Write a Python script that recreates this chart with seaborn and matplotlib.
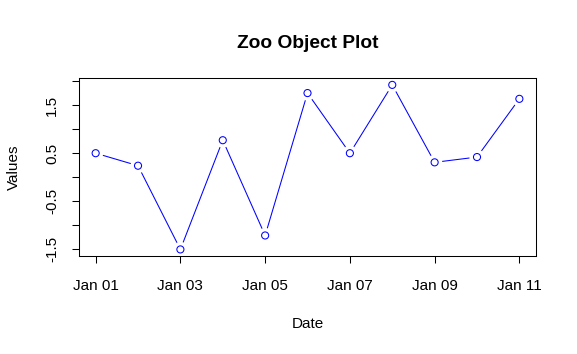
import matplotlib
matplotlib.use('Agg')
import matplotlib.pyplot as plt
import matplotlib.dates as mdates
import pandas as pd
import seaborn as sns

# Dados da série
dates = ['2024-01-01', '2024-01-02', '2024-01-03', '2024-01-04', '2024-01-05', '2024-01-06',
         '2024-01-07', '2024-01-08', '2024-01-09', '2024-01-10', '2024-01-11']
values = [0.50, 0.24, -1.50, 0.77, -1.21, 1.75, 0.50, 1.92, 0.31, 0.42, 1.63]
x_ticks = ['2024-01-01', '2024-01-03', '2024-01-05', '2024-01-07', '2024-01-09', '2024-01-11']
y_ticks = [-1.5, -1.0, -0.5, 0.0, 0.5, 1.0, 1.5, 2.0]
y_labels = ['-1.5', '', '-0.5', '', '0.5', '', '1.5', '']

df = pd.DataFrame({'date': pd.to_datetime(dates), 'value': values})

sns.set_style('white')
plt.rcParams['font.family'] = ['Liberation Sans', 'DejaVu Sans']
plt.rcParams['text.color'] = 'black'
plt.rcParams['axes.labelcolor'] = 'black'

fig = plt.figure(figsize=(5.77, 3.54), dpi=100)
ax = fig.add_axes([0.1364, 0.2768, 0.7931, 0.502])

# linha com lacunas nos pontos (estilo type="b" do R)
sns.lineplot(data=df, x='date', y='value', color='blue', linewidth=0.75, ax=ax, zorder=1)
ax.scatter(df['date'], df['value'], s=120, color='white', edgecolor='none', zorder=2)
ax.scatter(df['date'], df['value'], s=26, facecolor='none', edgecolor='blue', linewidth=0.75, zorder=3)

span = df['value'].max() - df['value'].min()
ax.set_ylim(df['value'].min() - 0.04 * span, df['value'].max() + 0.04 * span)
ax.set_xlim(df['date'].min() - pd.Timedelta(hours=9.6), df['date'].max() + pd.Timedelta(hours=9.6))

ax.set_xticks(pd.to_datetime(x_ticks))
ax.xaxis.set_major_formatter(mdates.DateFormatter('%b %d'))
ax.set_yticks(y_ticks)
ax.set_yticklabels(y_labels, rotation=90, va='center')

for s in ax.spines.values():
    s.set_color('black')
    s.set_linewidth(0.75)
ax.tick_params(axis='both', direction='out', length=5.2, width=0.75, color='black',
               labelsize=11, labelcolor='black', bottom=True, left=True)
ax.tick_params(axis='x', pad=11)
ax.tick_params(axis='y', pad=9)

ax.set_title('Zoo Object Plot', fontsize=13.8, fontweight='bold', pad=22, color='black')
ax.set_xlabel('Date', fontsize=11, labelpad=17.5)
ax.set_ylabel('Values', fontsize=11, labelpad=17.5)

plt.savefig('out.png', dpi=100)
plt.close()
